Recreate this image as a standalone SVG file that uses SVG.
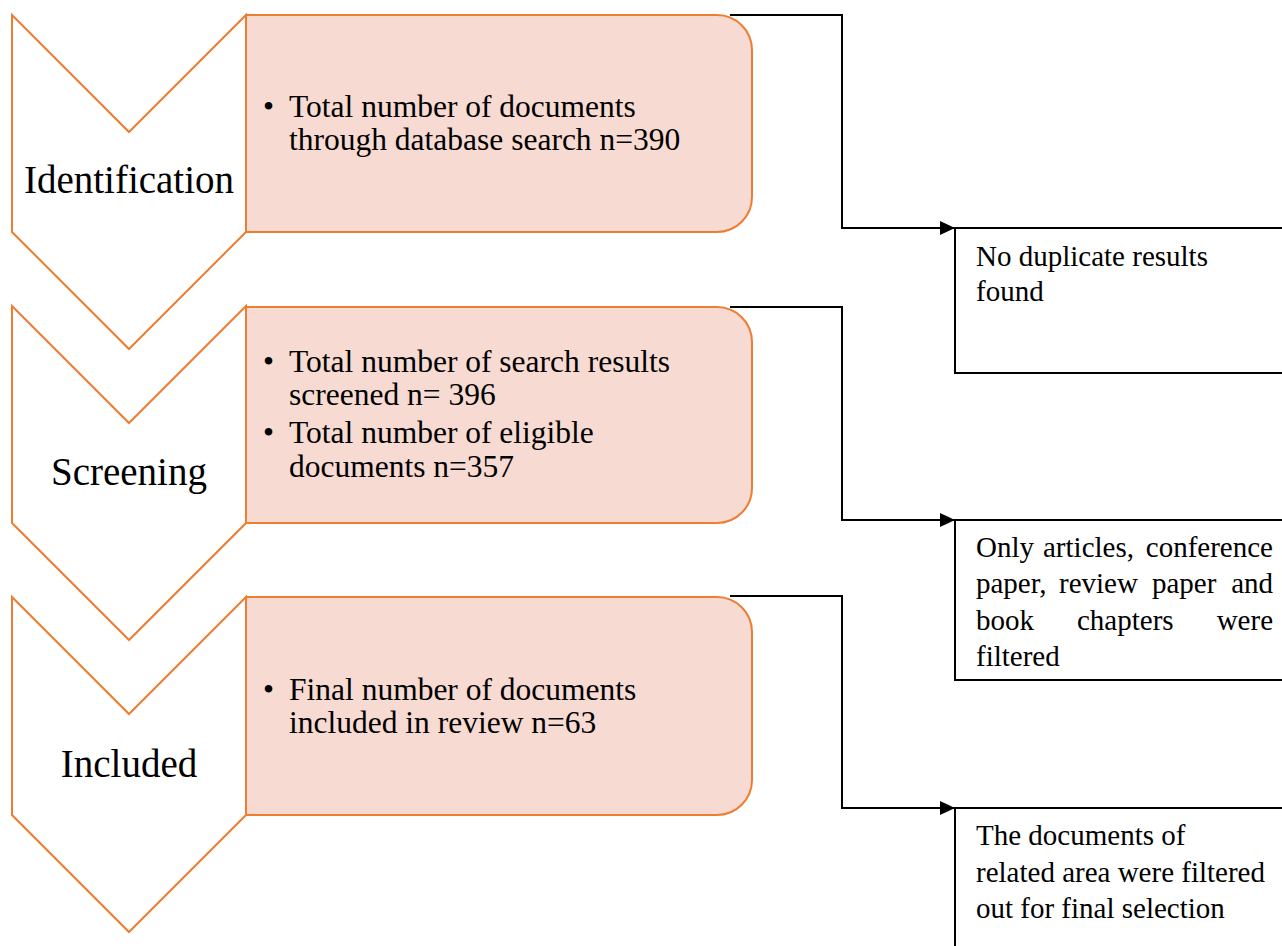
<svg xmlns="http://www.w3.org/2000/svg" width="1282" height="946" viewBox="0 0 1282 946">
<defs>
<style>
.chev{fill:#FFFFFF;stroke:#ED7D31;stroke-width:2;stroke-linejoin:miter}
.box{fill:#F7DAD2;stroke:#ED7D31;stroke-width:2}
.note{fill:#FFFFFF;stroke:#000000;stroke-width:2}
.conn{fill:none;stroke:#000000;stroke-width:2}
.lbl{font-family:"Liberation Serif","Times New Roman",serif;font-size:39px;fill:#000000;text-anchor:middle}
.bt{font-family:"Liberation Serif","Times New Roman",serif;font-size:31.5px;fill:#000000}
.nt{font-family:"Liberation Serif","Times New Roman",serif;font-size:29px;fill:#000000}
.end{text-anchor:end}
</style>
<marker id="arr" markerWidth="16" markerHeight="14" refX="15" refY="7" orient="auto" markerUnits="userSpaceOnUse">
<path d="M0,0 L15,7 L0,14 Z" fill="#000000"/>
</marker>
</defs>
<rect x="0" y="0" width="1282" height="946" fill="#FFFFFF"/>

<g id="connectors">
<path class="conn" d="M730,15 H842 V228 H955" marker-end="url(#arr)"/>
<path class="conn" d="M730,307 H842 V520 H955" marker-end="url(#arr)"/>
<path class="conn" d="M730,596 H842 V808 H955" marker-end="url(#arr)"/>
</g>

<g id="identification">
<path class="chev" d="M12,15 L129,132 L246,15 L246,232 L129,349 L12,232 Z"/>
<text class="lbl" x="129" y="193">Identification</text>
</g>
<g id="identification-box">
<path class="box" d="M246,15 H717 A35,35 0 0 1 752,50 V197 A35,35 0 0 1 717,232 H246 Z"/>
<text class="bt" x="263" y="117">•</text>
<text class="bt" x="289" y="117">Total number of documents</text>
<text class="bt" x="289" y="150">through database search n=390</text>
</g>

<g id="screening">
<path class="chev" d="M12,306 L129,423 L246,306 L246,523 L129,640 L12,523 Z"/>
<text class="lbl" x="129" y="485">Screening</text>
</g>
<g id="screening-box">
<path class="box" d="M246,307 H717 A35,35 0 0 1 752,342 V488 A35,35 0 0 1 717,523 H246 Z"/>
<text class="bt" x="263" y="372">•</text>
<text class="bt" x="289" y="372">Total number of search results</text>
<text class="bt" x="289" y="405">screened n= 396</text>
<text class="bt" x="263" y="443">•</text>
<text class="bt" x="289" y="443">Total number of eligible</text>
<text class="bt" x="289" y="477">documents n=357</text>
</g>

<g id="included">
<path class="chev" d="M12,597 L129,714 L246,597 L246,815 L129,932 L12,815 Z"/>
<text class="lbl" x="129" y="777">Included</text>
</g>
<g id="included-box">
<path class="box" d="M246,597 H717 A35,35 0 0 1 752,632 V780 A35,35 0 0 1 717,815 H246 Z"/>
<text class="bt" x="263" y="700">•</text>
<text class="bt" x="289" y="700">Final number of documents</text>
<text class="bt" x="289" y="733">included in review n=63</text>
</g>

<g id="note-duplicates">
<rect class="note" x="955" y="228" width="340" height="145"/>
<text class="nt" x="976" y="266">No duplicate results</text>
<text class="nt" x="976" y="301">found</text>
</g>

<g id="note-types">
<rect class="note" x="955" y="520" width="340" height="160"/>
<text class="nt" x="976" y="557">Only</text>
<text class="nt" x="1043" y="557">articles,</text>
<text class="nt end" x="1273" y="557">conference</text>
<text class="nt" x="976" y="593">paper,</text>
<text class="nt" x="1059" y="593">review</text>
<text class="nt" x="1152" y="593">paper</text>
<text class="nt end" x="1273" y="593">and</text>
<text class="nt" x="976" y="630">book</text>
<text class="nt" x="1077" y="630">chapters</text>
<text class="nt end" x="1273" y="630">were</text>
<text class="nt" x="976" y="666">filtered</text>
</g>

<g id="note-related">
<rect class="note" x="955" y="808" width="340" height="160"/>
<text class="nt" x="976" y="845">The documents of</text>
<text class="nt" x="976" y="882">related area were filtered</text>
<text class="nt" x="976" y="918">out for final selection</text>
</g>
</svg>
